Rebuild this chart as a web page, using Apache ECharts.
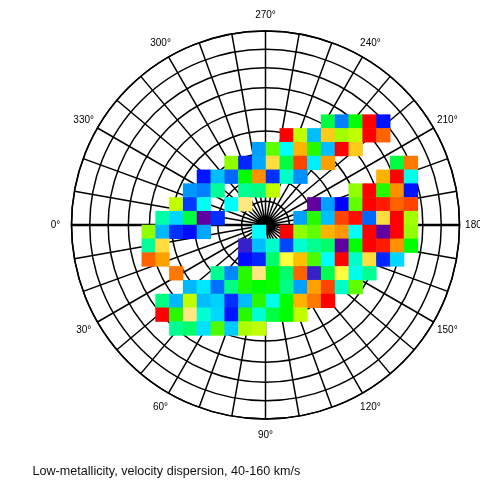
<!DOCTYPE html>
<html><head><meta charset="utf-8">
<style>html,body{margin:0;padding:0;background:#fff}#c{width:480px;height:485px}</style>
<script src="https://cdn.jsdelivr.net/npm/echarts@6/dist/echarts.min.js"></script>
</head><body><div id="c"></div>
<script>
const _ = null;
const titleText = "Low-metallicity, velocity dispersion, 40-160 km/s";
const labelAngles = [0,30,60,90,120,150,180,210,240,270,300,330];
const labelRadius = 1.082;
// Lambert equal-area rings, as a fraction of the outer radius
const ringPositions = [0.123, 0.2456, 0.366, 0.484, 0.598, 0.707, 0.811, 0.906, 1];
// Heavier horizontal diameter: [radius, angle]
const diameter = [[1,0],[0,0],[1,180]];
// Grid cell indices relative to the pole
const colIndex = [-14,-13,-12,-11,-10,-9,-8,-7,-6,-5,-4,-3,-2,-1,0,1,2,3,4,5,6,7,8,9,10,11,12,13];
const rowIndex = [-14,-13,-12,-11,-10,-9,-8,-7,-6,-5,-4,-3,-2,-1,0,1,2,3,4,5,6,7,8,9,10,11,12,13];
const firstCol = -9;
// Velocity dispersion (km/s) by row, columns k = -9 .. 10
const rowM8 = [_,_,_,_,_,_,_,_,_,_,_,_,_,96,63,100,160,52,_,_];
const rowM7 = [_,_,_,_,_,_,_,_,_,_,160,120,71,138,117,120,160,152,_,_];
const rowM6 = [_,_,_,_,_,_,_,_,67,110,80,142,104,71,160,138,_,_,_,_];
const rowM5 = [_,_,_,_,_,_,115,54,68,135,96,155,78,145,_,_,_,_,96,150];
const rowM4 = [_,_,_,_,52,71,60,100,147,55,85,65,_,_,_,_,_,142,160,82];
const rowM3 = [_,_,_,66,63,89,_,90,91,120,_,_,_,_,_,115,160,104,147,52];
const rowM2 = [_,_,120,56,81,_,80,130,_,_,_,_,40,67,50,110,160,158,152,155];
const rowM1 = [_,88,75,96,40,55,_,_,_,_,_,67,104,71,155,159,60,135,160,117];
const rowP0 = [115,70,55,51,68,_,_,_,80,_,160,115,110,142,146,80,160,40,160,115];
const rowP1 = [89,135,_,_,_,_,_,45,71,85,57,84,90,93,40,100,160,158,147,100];
const rowP2 = [152,145,_,_,_,_,_,51,54,93,125,140,108,80,160,85,135,54,75,_];
const rowP3 = [_,_,150,_,_,90,64,104,130,100,93,152,45,95,125,82,90,_,_,_];
const rowP4 = [_,_,_,70,77,61,91,103,100,101,91,67,145,155,85,110,_,_,_,_];
const rowP5 = [_,91,70,120,71,74,55,71,104,82,100,142,150,160,_,_,_,_,_,_];
const rowP6 = [_,160,104,130,84,75,52,104,84,96,100,120,_,_,_,_,_,_,_,_];
const rowP7 = [_,_,90,93,76,108,73,118,120,_,_,_,_,_,_,_,_,_,_,_];
const filledRows = [[-8,rowM8],[-7,rowM7],[-6,rowM6],[-5,rowM5],[-4,rowM4],[-3,rowM3],[-2,rowM2],[-1,rowM1],
  [0,rowP0],[1,rowP1],[2,rowP2],[3,rowP3],[4,rowP4],[5,rowP5],[6,rowP6],[7,rowP7]];
// Colour scale, evenly spaced over 40-160 km/s
const colourScale = ['#6000a0','#3820c8','#0000ff','#0030ff','#0068ff','#0090ff','#00b8ff','#00d8ff','#00ffff',
  '#00ffc8','#00ff90','#00ff50','#00ff00','#30f800','#60ff00','#90ff00','#c0ff00','#ffff40','#ffe880','#ffdc40',
  '#ffc000','#ffa000','#ff7800','#ff4400','#ff0000'];

const cells = [];
filledRows.forEach(function (r) {
  r[1].forEach(function (v, i) {
    if (v !== null) cells.push([String(firstCol + i), String(r[0]), v]);
  });
});
const chart = echarts.init(document.getElementById('c'), null, {renderer: 'canvas'});
const lineStyle = {color: '#000', width: 1.5};
chart.setOption({
  animation: false,
  backgroundColor: '#fff',
  textStyle: {fontFamily: 'Liberation Sans'},
  title: {text: titleText, left: 27.5, top: 460, textStyle: {fontSize: 12.6, fontWeight: 'normal', color: '#111', fontFamily: 'Liberation Sans'}},
  polar: {center: [265.5, 225], radius: 194},
  angleAxis: {
    type: 'value', min: 0, max: 360, interval: 10, startAngle: 180, clockwise: false, z: 0,
    axisLine: {show: true, lineStyle: lineStyle},
    axisTick: {show: false},
    splitLine: {show: true, lineStyle: lineStyle},
    axisLabel: {show: false}
  },
  radiusAxis: {
    type: 'value', min: 0, max: 1, z: 0,
    axisLine: {show: false},
    axisTick: {show: false, customValues: ringPositions},
    axisLabel: {show: false},
    splitLine: {show: true, lineStyle: lineStyle}
  },
  grid: {left: 72.8, top: 31.8, width: 386.4, height: 386.4, show: false},
  xAxis: {type: 'category', data: colIndex.map(String), show: false},
  yAxis: {type: 'category', data: rowIndex.map(String), inverse: true, show: false},
  visualMap: {show: false, type: 'continuous', min: 40, max: 160, seriesIndex: 0, inRange: {color: colourScale}},
  series: [
    {type: 'heatmap', coordinateSystem: 'cartesian2d', data: cells, silent: true, z: 5, progressive: 0},
    {type: 'line', coordinateSystem: 'polar', data: diameter, showSymbol: false, symbol: 'none', silent: true, z: 1, clip: false,
     lineStyle: {color: '#000', width: 2.4}},
    {type: 'scatter', coordinateSystem: 'polar', silent: true, symbolSize: 1, z: 6, clip: false,
     itemStyle: {color: 'transparent'},
     data: labelAngles.map(function (a) { return [labelRadius, a]; }),
     label: {show: true, position: 'inside', fontSize: 10, color: '#000', opacity: 1, fontFamily: 'Liberation Sans', align: 'center', verticalAlign: 'middle',
       formatter: function (p) { return p.value[1] + '°'; }}}
  ]
});
</script></body></html>
